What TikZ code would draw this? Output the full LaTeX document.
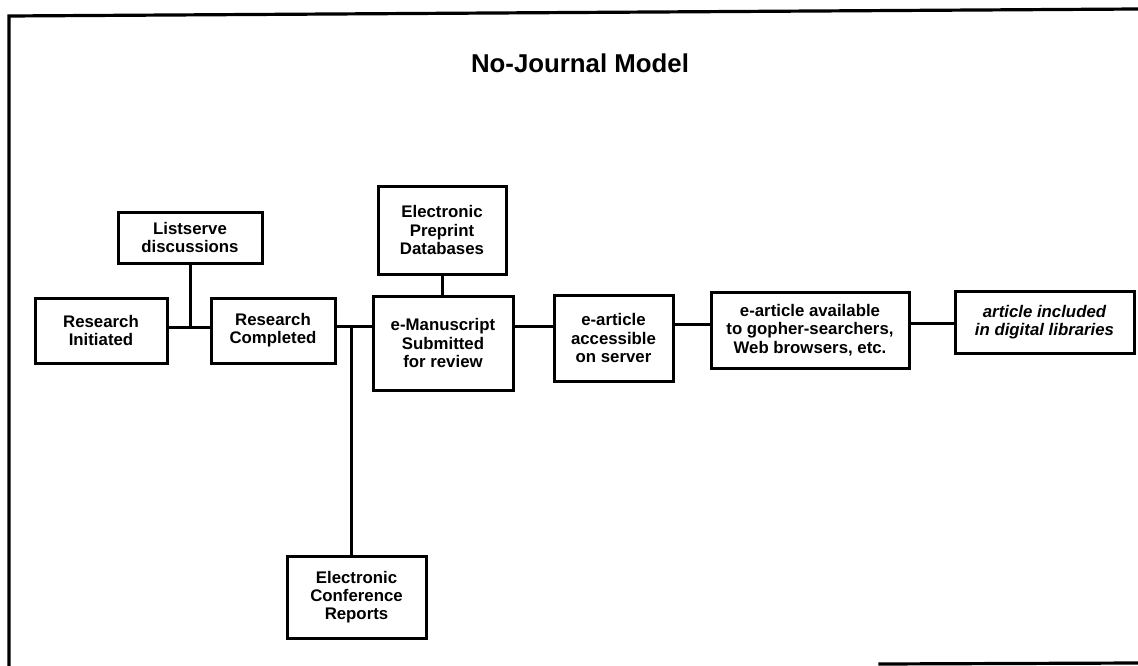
\documentclass[tikz,border=0pt]{standalone}
\usepackage{fontspec}
\setmainfont{Liberation Sans}
\usetikzlibrary{calc}
\tikzset{
  stepbox/.style={draw, line width=3pt, align=center, inner sep=0pt,
    font=\fontsize{16.8}{18.3}\selectfont\bfseries},
  link/.style={line width=3pt},
  frame/.style={line width=3.2pt, line cap=rect},
}
\begin{document}
\begin{tikzpicture}[x=1pt,y=-1pt]
\useasboundingbox (0,0) rectangle (1138,666);
% frame
\draw[frame] (9,666) -- (9,16) -- (1138,9);
\draw[frame] (880,664) -- (1138,663);
% title
\node (title) at (580,63) {\fontsize{25.8}{30}\selectfont\bfseries No-Journal Model};
% boxes
\node[stepbox, minimum width=144pt, minimum height=51pt] (list) at (190,237.5) {Listserve\\discussions};
\node[stepbox, minimum width=132pt, minimum height=65pt] (init) at (101,330.5) {Research\\Initiated};
\node[stepbox, minimum width=124pt, minimum height=65pt] (comp) at (273,330.5) {Research\\Completed};
\node[stepbox, minimum width=128pt, minimum height=88pt] (pre) at (442,230) {Electronic\\Preprint\\Databases};
\node[stepbox, minimum width=140pt, minimum height=94pt] (man) at (443,343) {e-Manuscript\\Submitted\\for review};
\node[stepbox, minimum width=119pt, minimum height=86pt] (acc) at (613.5,338) {e-article\\accessible\\on server};
\node[stepbox, minimum width=198pt, minimum height=76pt] (goph) at (810,330) {e-article available\\to gopher-searchers,\\Web browsers, etc.};
\node[stepbox, minimum width=179pt, minimum height=62pt, font=\fontsize{16.8}{18.3}\selectfont\bfseries\itshape] (dig) at (1044.5,322) {article included\\in digital libraries};
\node[stepbox, minimum width=139pt, minimum height=82pt] (conf) at (356.5,597) {Electronic\\Conference\\Reports};
% junctions
\coordinate (j1) at (185,327);
\coordinate (j2) at (351,326);
\coordinate (j3) at (0,326);
\coordinate (j4) at (0,324);
\coordinate (j5) at (0,323);
% connectors
\draw[link] (init.east|-j1) -- (comp.west|-j1);
\draw[link] (list.south) -- (list.south|-j1);
\draw[link] (comp.east|-j2) -- (man.west|-j2);
\draw[link] (j2) -- (j2|-conf.north);
\draw[link] (pre.south) -- (pre.south|-man.north);
\draw[link] (man.east|-j3) -- (acc.west|-j3);
\draw[link] (acc.east|-j4) -- (goph.west|-j4);
\draw[link] (goph.east|-j5) -- (dig.west|-j5);
\end{tikzpicture}
\end{document}
